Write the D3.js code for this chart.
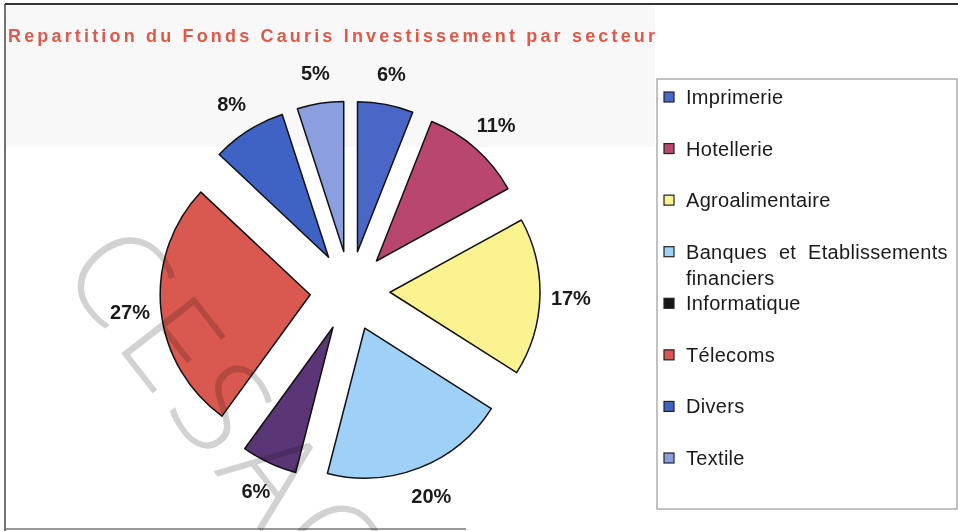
<!DOCTYPE html>
<html>
<head>
<meta charset="utf-8">
<script src="https://cdn.jsdelivr.net/npm/d3@7"></script>
<style>
  body { margin: 0; background: #fff; }
  svg { display: block; }
</style>
</head>
<body>
<div id="chart"></div>
<script>
const W = 958, H = 531;

// data
const secteurs = ["Imprimerie", "Hotellerie", "Agroalimentaire", "Banques et Etablissements financiers",
                  "Informatique", "Télecoms", "Divers", "Textile"];
const parts = [6, 11, 17, 20, 6, 27, 8, 5];
const couleurs = ["#4a66c6", "#b9466f", "#fbf38f", "#9fd0f7", "#5b3677", "#d9584f", "#3f63c4", "#8b9fe0"];
const couleursLegende = ["#4a66c6", "#b9466f", "#fbf38f", "#9fd0f7", "#151515", "#d9584f", "#3f63c4", "#8b9fe0"];
const titre = "Repartition du Fonds Cauris Investissement par secteur";

const cx = 350, cy = 291, radius = 150, explode = 40, labelR = 221;

const svg = d3.select("#chart").append("svg")
  .attr("width", W)
  .attr("height", H);

// frame + faint band of the scanned page
svg.append("rect").attr("x", 5).attr("y", 4).attr("width", 650).attr("height", 143).attr("fill", "#f8f8f8");
svg.append("line").attr("x1", 5).attr("x2", W).attr("y1", 4).attr("y2", 4)
  .attr("stroke", "#333").attr("stroke-width", 2);
svg.append("line").attr("x1", 5).attr("x2", 5).attr("y1", 4).attr("y2", H)
  .attr("stroke", "#444").attr("stroke-width", 1.5);
svg.append("line").attr("x1", 5).attr("x2", 466).attr("y1", 529).attr("y2", 529)
  .attr("stroke", "#777").attr("stroke-width", 1.5);

svg.append("text")
  .attr("x", 8)
  .attr("y", 42)
  .attr("textLength", 647)
  .attr("lengthAdjust", "spacing")
  .style("font-family", "'Liberation Sans', Arial, sans-serif")
  .style("font-weight", "bold")
  .style("font-size", "18px")
  .attr("fill", "#dc5a4b")
  .text(titre);

const pie = d3.pie().sort(null).value(d => d)(parts);
const arc = d3.arc().innerRadius(0).outerRadius(radius);
const labelArc = d3.arc().innerRadius(labelR).outerRadius(labelR);

const g = svg.append("g").attr("transform", `translate(${cx},${cy})`);

g.selectAll(".slice")
  .data(pie)
  .enter()
  .append("path")
  .attr("class", "slice")
  .attr("transform", d => {
    const a = (d.startAngle + d.endAngle) / 2;
    return `translate(${Math.sin(a) * explode},${-Math.cos(a) * explode})`;
  })
  .attr("d", arc)
  .attr("fill", (d, i) => couleurs[i])
  .attr("stroke", "#111")
  .attr("stroke-width", 1.5)
  .attr("stroke-linejoin", "round");

g.selectAll(".pct")
  .data(pie)
  .enter()
  .append("text")
  .attr("class", "pct")
  .attr("transform", d => `translate(${labelArc.centroid(d)})`)
  .attr("text-anchor", "middle")
  .attr("dominant-baseline", "central")
  .style("font-family", "'Liberation Sans', Arial, sans-serif")
  .style("font-weight", "bold")
  .style("font-size", "20px")
  .attr("fill", "#1a1a1a")
  .text(d => d.data + "%");

// legend
const legend = svg.append("g");
legend.append("rect")
  .attr("x", 657).attr("y", 79).attr("width", 300).attr("height", 430)
  .attr("fill", "#fff").attr("stroke", "#999").attr("stroke-width", 1.2);

const yLeg = d3.scalePoint().domain(secteurs).range([97, 458]);

const items = legend.selectAll(".item")
  .data(secteurs)
  .enter()
  .append("g")
  .attr("class", "item")
  .attr("transform", d => `translate(0,${yLeg(d)})`);

items.append("rect")
  .attr("x", 664).attr("y", -5).attr("width", 10).attr("height", 10)
  .attr("fill", (d, i) => couleursLegende[i])
  .attr("stroke", "#222").attr("stroke-width", 1.2);

items.append("text")
  .attr("x", 686)
  .attr("dominant-baseline", "central")
  .style("font-family", "'Liberation Sans', Arial, sans-serif")
  .style("font-size", "20px")
  .style("letter-spacing", "0.3px")
  .style("word-spacing", "6px")
  .attr("fill", "#1a1a1a")
  .each(function(d) {
    // wrap long names onto a second line
    const words = d.split(" ");
    const el = d3.select(this);
    let line = [];
    let tspan = el.append("tspan").attr("x", 686).attr("dy", 0);
    words.forEach(w => {
      line.push(w);
      tspan.text(line.join(" "));
      if (tspan.node().getComputedTextLength() > 272 && line.length > 1) {
        line.pop();
        tspan.text(line.join(" "));
        line = [w];
        tspan = el.append("tspan").attr("x", 686).attr("dy", "1.3em").text(w);
      }
    });
  });

// scanned watermark
svg.append("text")
  .attr("transform", "translate(236,418) rotate(52)")
  .attr("text-anchor", "middle")
  .attr("dominant-baseline", "central")
  .style("font-family", "'Open Sans', Lato, sans-serif")
  .style("font-weight", "300")
  .style("font-size", "130px")
  .style("letter-spacing", "10px")
  .style("mix-blend-mode", "multiply")
  .attr("fill", "#d2d2d2")
  .text("CESAO");
</script>
</body>
</html>
